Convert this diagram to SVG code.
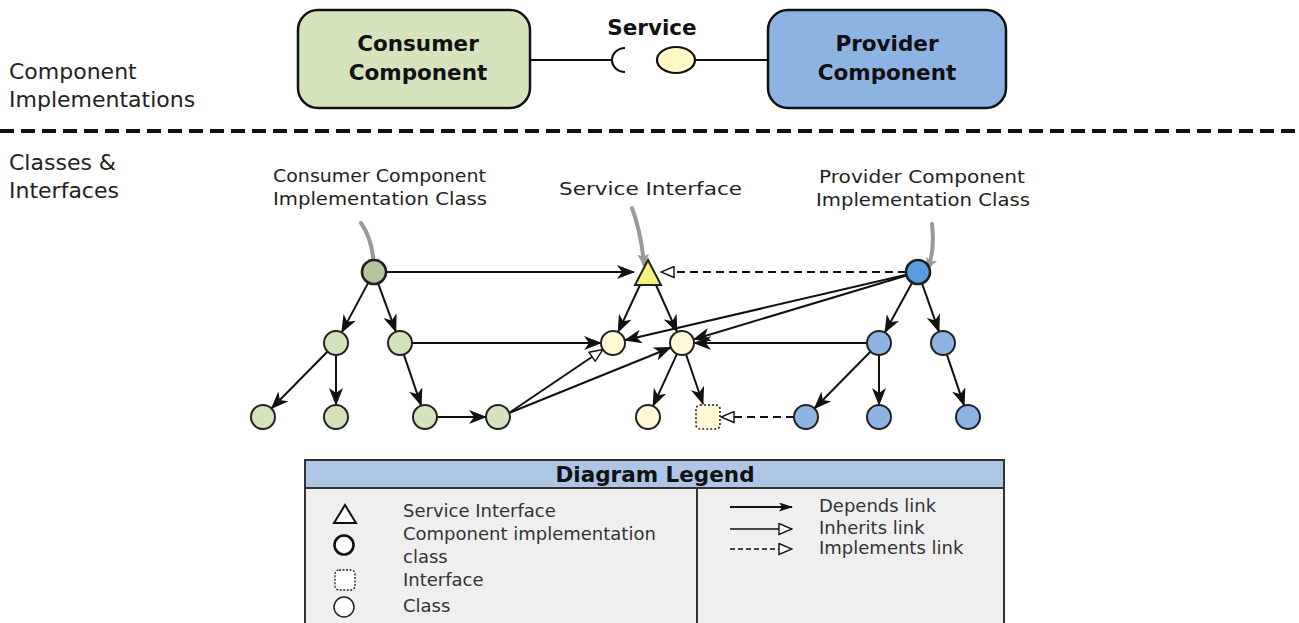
<svg xmlns="http://www.w3.org/2000/svg" width="1299" height="623" viewBox="0 0 1299 623">
<style>
.t{font-family:"DejaVu Sans","Liberation Sans",sans-serif;fill:#222}
.b{font-family:"DejaVu Sans","Liberation Sans",sans-serif;font-weight:bold;fill:#111}
.h{font-family:"DejaVu Sans","Liberation Sans",sans-serif;font-size:18px;fill:#222}
.lg{font-family:"DejaVu Sans","Liberation Sans",sans-serif;font-size:18px;fill:#333}
.e{fill:none;stroke:#111;stroke-width:2}
.dep{marker-end:url(#dep)}
.inh{marker-end:url(#inh)}
.imp{stroke-dasharray:8,5;marker-end:url(#inh)}
.n{stroke:#222;stroke-width:2}
.g1{fill:#d5e3bc}
.g0{fill:#b3c79a;stroke-width:2.6}
.y{fill:#fff9d6}
.b1{fill:#8db4e2}
.b0{fill:#5b9be0;stroke-width:2.6}
.ann{fill:none;stroke:#999;stroke-width:4;stroke-linecap:round;marker-end:url(#grey)}
</style>
<defs>
<marker id="dep" markerUnits="userSpaceOnUse" markerWidth="18" markerHeight="14" viewBox="0 0 18 14" refX="17" refY="7" orient="auto"><path d="M0,0 L18,7 L0,14 L5,7 Z" fill="#111"/></marker>
<marker id="inh" markerUnits="userSpaceOnUse" markerWidth="15" markerHeight="13" viewBox="0 0 15 13" refX="14" refY="6.5" orient="auto"><path d="M1,1 L14,6.5 L1,12 Z" fill="#fff" stroke="#111" stroke-width="1.4"/></marker>
<marker id="ldep" markerUnits="userSpaceOnUse" markerWidth="14" markerHeight="9" viewBox="0 0 14 9" refX="13" refY="4.5" orient="auto"><path d="M0,0 L14,4.5 L0,9 L3,4.5 Z" fill="#111"/></marker>
<marker id="grey" markerUnits="userSpaceOnUse" markerWidth="14" markerHeight="12" viewBox="0 0 14 12" refX="10" refY="6" orient="auto"><path d="M0,0 L12,6 L0,12 L3,6 Z" fill="#999"/></marker>
</defs>
<rect width="1299" height="623" fill="#fff"/>

<!-- top section -->
<text class="t" font-size="22" x="9" y="79">Component</text>
<text class="t" font-size="22" x="9" y="107">Implementations</text>
<g id="consumer-component">
<rect x="298" y="10" width="232" height="98" rx="20" fill="#d6e4bd" stroke="#111" stroke-width="2.5"/>
<text class="b" font-size="21.5" x="418" y="51" text-anchor="middle">Consumer</text>
<text class="b" font-size="21.5" x="418" y="80" text-anchor="middle">Component</text>
</g>
<g id="provider-component">
<rect x="768" y="10" width="238" height="98" rx="20" fill="#8db3e2" stroke="#111" stroke-width="2.5"/>
<text class="b" font-size="21.5" x="887" y="51" text-anchor="middle">Provider</text>
<text class="b" font-size="21.5" x="887" y="80" text-anchor="middle">Component</text>
</g>
<g id="service">
<text class="b" font-size="21.5" x="652" y="35" text-anchor="middle">Service</text>
<path d="M625,48 A13,12 0 0 0 625,72" fill="none" stroke="#111" stroke-width="2.2"/>
<ellipse cx="676" cy="60" rx="19" ry="13" fill="#fff9c8" stroke="#111" stroke-width="2.2"/>
</g>
<g id="top-connectors">
<line x1="530" y1="60" x2="612" y2="60" stroke="#111" stroke-width="2.2"/>
<line x1="695" y1="60" x2="768" y2="60" stroke="#111" stroke-width="2.2"/>
</g>

<line x1="0" y1="131" x2="1299" y2="131" stroke="#111" stroke-width="4" stroke-dasharray="14,7"/>
<text class="t" font-size="22" x="9" y="170">Classes &amp;</text>
<text class="t" font-size="22" x="9" y="198">Interfaces</text>

<!-- annotations -->
<text class="h" x="273" y="182" textLength="213" lengthAdjust="spacingAndGlyphs">Consumer Component</text>
<text class="h" x="273" y="205" textLength="214" lengthAdjust="spacingAndGlyphs">Implementation Class</text>
<text class="h" x="559" y="195" textLength="183" lengthAdjust="spacingAndGlyphs">Service Interface</text>
<text class="h" x="819" y="183" textLength="206" lengthAdjust="spacingAndGlyphs">Provider Component</text>
<text class="h" x="816" y="206" textLength="214" lengthAdjust="spacingAndGlyphs">Implementation Class</text>
<g id="annotation-arrows">
<path class="ann" d="M361,223 Q373,240 374,268"/>
<path class="ann" d="M632,208 Q641,232 644,264"/>
<path class="ann" d="M932,224 Q935,250 928,268"/>
</g>

<!-- connectors -->
<g id="connectors" class="e">
<path class="dep" d="M386,272 L634,272"/>
<path class="imp" d="M906,272 L661,272"/>
<path class="dep" d="M368.3,282.6 L341.7,332.4"/>
<path class="dep" d="M378.1,283.3 L395.9,331.7"/>
<path class="dep" d="M327.6,351.5 L271.4,408.5"/>
<path class="dep" d="M336,355 L336,405"/>
<path class="dep" d="M403.8,354.4 L421.2,405.6"/>
<path class="dep" d="M437,417 L486,417"/>
<path class="dep" d="M412,343 L601,343"/>
<path class="inh" d="M509,413 L602.9,349.5"/>
<path class="dep" d="M509,413 L670.9,347.5"/>
<path class="dep" d="M640,285 L618.1,332.1"/>
<path class="dep" d="M656,285 L677.1,332.1"/>
<path class="dep" d="M906.3,274.7 L624.7,340.3"/>
<path class="dep" d="M906.5,275.5 L693.5,339.5"/>
<path class="dep" d="M867,343 L694,343"/>
<path class="dep" d="M677,353.9 L653,406.1"/>
<path class="dep" d="M686,354.3 L703,404"/>
<path class="imp" d="M794,417 L721,417"/>
<path class="dep" d="M912.2,282.5 L884.8,332.5"/>
<path class="dep" d="M922,283.3 L939,331.7"/>
<path class="dep" d="M870.6,351.5 L814.4,408.5"/>
<path class="dep" d="M879,355 L879,405"/>
<path class="dep" d="M946.8,354.4 L964.2,405.6"/>
</g>

<!-- nodes -->
<g id="consumer-impl"><circle class="n g0" cx="374" cy="272" r="12"/></g>
<g id="service-interface"><path class="n" d="M648,260 L661,285 L635,285 Z" fill="#f8f17e"/></g>
<g id="provider-impl"><circle class="n b0" cx="918" cy="272" r="12"/></g>
<g id="c1"><circle class="n g1" cx="336" cy="343" r="12"/></g>
<g id="c2"><circle class="n g1" cx="400" cy="343" r="12"/></g>
<g id="c3"><circle class="n g1" cx="263" cy="417" r="12"/></g>
<g id="c4"><circle class="n g1" cx="336" cy="417" r="12"/></g>
<g id="c5"><circle class="n g1" cx="425" cy="417" r="12"/></g>
<g id="c6"><circle class="n g1" cx="498" cy="417" r="12"/></g>
<g id="s1"><circle class="n y" cx="613" cy="343" r="12"/></g>
<g id="s2"><circle class="n y" cx="682" cy="343" r="12"/></g>
<g id="s3"><circle class="n y" cx="648" cy="417" r="12"/></g>
<g id="s4"><rect x="696" y="405" width="24" height="24" rx="4" fill="#fff9d6" stroke="#222" stroke-width="1.6" stroke-dasharray="2,2"/></g>
<g id="p1"><circle class="n b1" cx="879" cy="343" r="12"/></g>
<g id="p2"><circle class="n b1" cx="943" cy="343" r="12"/></g>
<g id="p3"><circle class="n b1" cx="806" cy="417" r="12"/></g>
<g id="p4"><circle class="n b1" cx="879" cy="417" r="12"/></g>
<g id="p5"><circle class="n b1" cx="968" cy="417" r="12"/></g>

<!-- legend -->
<g id="legend">
<rect x="305" y="460" width="699" height="170" fill="#efefef" stroke="#333" stroke-width="2"/>
<rect x="305" y="460" width="699" height="28" fill="#adc6e6" stroke="#333" stroke-width="2"/>
<text class="b" font-size="21.5" x="655" y="482" text-anchor="middle">Diagram Legend</text>
<line x1="697" y1="488" x2="697" y2="623" stroke="#333" stroke-width="2"/>
<path d="M345,505 L356,523 L334,523 Z" fill="#fff" stroke="#111" stroke-width="2"/>
<circle cx="344" cy="545" r="9.5" fill="#fff" stroke="#111" stroke-width="2.6"/>
<rect x="335" y="570" width="20" height="20" rx="4" fill="#fff" stroke="#222" stroke-width="1.3" stroke-dasharray="2,1.5"/>
<circle cx="344" cy="607" r="10" fill="#fff" stroke="#222" stroke-width="1.5"/>
<text class="lg" x="403" y="517">Service Interface</text>
<text class="lg" x="403" y="540">Component implementation</text>
<text class="lg" x="403" y="563">class</text>
<text class="lg" x="403" y="586">Interface</text>
<text class="lg" x="403" y="612">Class</text>
<line x1="730" y1="507" x2="792" y2="507" stroke="#111" stroke-width="2" marker-end="url(#ldep)"/>
<line x1="730" y1="529" x2="792" y2="529" stroke="#111" stroke-width="1.6" marker-end="url(#inh)"/>
<line x1="730" y1="549" x2="792" y2="549" stroke="#111" stroke-width="1.6" stroke-dasharray="5,3" marker-end="url(#inh)"/>
<text class="lg" x="819" y="512">Depends link</text>
<text class="lg" x="819" y="534">Inherits link</text>
<text class="lg" x="819" y="554">Implements link</text>
</g>
</svg>
